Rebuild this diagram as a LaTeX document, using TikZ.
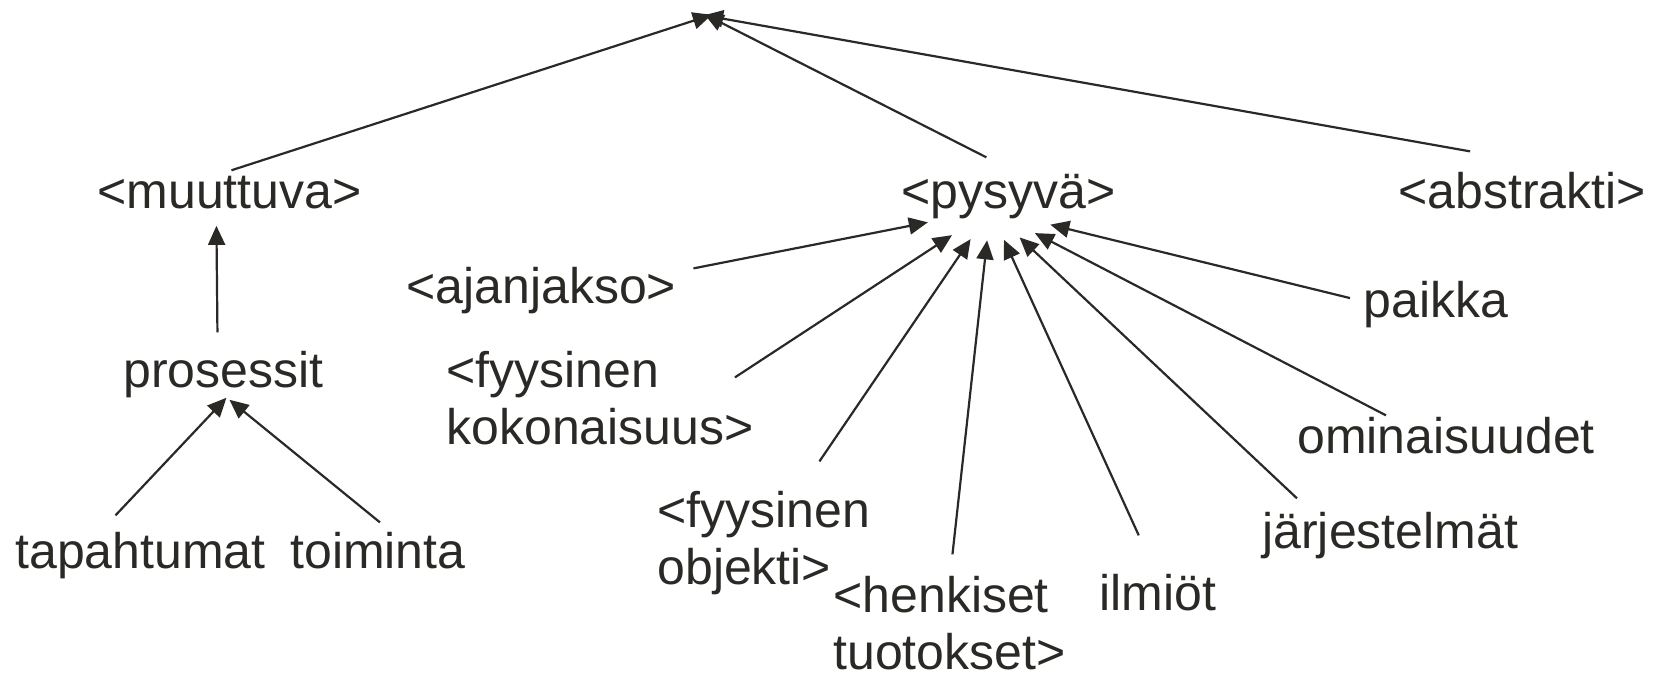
\documentclass[tikz,border=0pt]{standalone}
\usepackage{fontspec}
\setmainfont{Liberation Sans}
\usetikzlibrary{arrows.meta,calc,shapes.geometric}
\definecolor{ink}{RGB}{43,41,38}
\begin{document}
\begin{tikzpicture}[x=0.5pt,y=-0.5pt,
  lbl/.style={inner sep=0pt, anchor=base west, text=ink, font=\fontsize{25pt}{28.5pt}\selectfont, align=left},
  arr/.style={draw=ink, line width=1.1pt, -{Triangle[length=9.5pt,width=8.5pt]}},
  tgt/.style={ellipse, inner sep=0pt, minimum width=68pt, minimum height=30pt}]
\useasboundingbox (0,0) rectangle (1658,680);
% nodes (multi-line nodes: base = baseline of last line)
\node[lbl] (muut) at (97,208) {<muuttuva>};
\node[lbl] (pros) at (123,387) {prosessit};
\node[lbl] (tapa) at (15,568) {tapahtumat};
\node[lbl] (toim) at (290,568) {toiminta};
\node[lbl] (pys) at (901,208) {<pysyvä>};
\node[lbl] (abs) at (1398,208) {<abstrakti>};
\node[lbl] (ajan) at (406,303) {<ajanjakso>};
\node[lbl] (kok) at (446,444) {<fyysinen\\kokonaisuus>};
\node[lbl] (obj) at (657,584) {<fyysinen\\objekti>};
\node[lbl] (henk) at (833,669) {<henkiset\\tuotokset>};
\node[lbl] (ilm) at (1099,610) {ilmiöt};
\node[lbl] (jarj) at (1262,548) {järjestelmät};
\node[lbl] (omin) at (1297,453) {ominaisuudet};
\node[lbl] (paik) at (1363,317) {paikka};
% targets
\coordinate (apex) at (708,16);
\node[tgt] (pysin) at ($(pys.base)+(-18,2)$) {};
% connectors to apex
\draw[arr, shorten >=-2pt] ($(muut.north)+(2,-5)$) -- (apex);
\draw[arr, shorten >=-2pt] ($(pys.north)+(-22,-16)$) -- (apex);
\draw[arr, shorten >=-2pt] ($(abs.north)+(-52,-20)$) -- (apex);
% muuttuva branch
\draw[arr] ($(pros.north)+(-6,-18)$) -- ($(muut.south)+(-13,17)$);
\draw[arr] ($(tapa.north)+(-25,-16)$) -- ($(pros.south)+(3,0)$);
\draw[arr] ($(toim.north)+(2,-9)$) -- ($(pros.south)+(6,2)$);
% pysyva branch
\draw[arr] ($(ajan.north east)+(17,2)$) -- (pysin);
\draw[arr] ($(kok.north east)+(-19,27)$) -- (pysin);
\draw[arr] ($(obj.north east)+(-51,-29)$) -- (pysin);
\draw[arr] ($(henk.north)+(3,-21)$) -- (pysin);
\draw[arr] ($(ilm.north)+(-19,-38)$) -- (pysin);
\draw[arr] ($(jarj.north west)+(35,-13)$) -- (pysin);
\draw[arr] ($(omin.north west)+(89,-1)$) -- (pysin);
\draw[arr] ($(paik.west)+(-13,-6)$) -- (pysin);
\end{tikzpicture}
\end{document}
